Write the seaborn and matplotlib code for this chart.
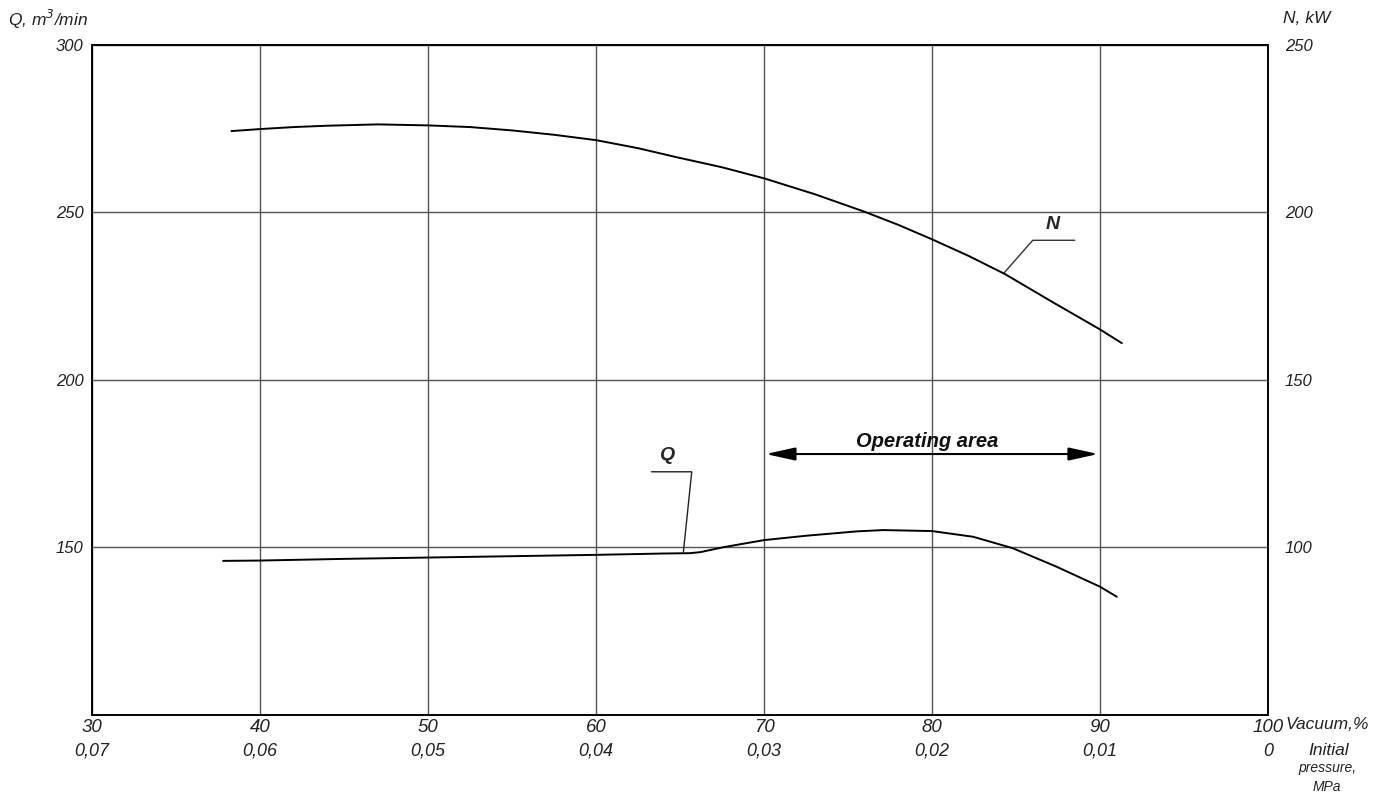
import matplotlib.pyplot as plt
import seaborn as sns
import pandas as pd
from matplotlib.transforms import blended_transform_factory

# Dados
vacuum_q = [37.8, 40, 45, 50, 55, 60, 64, 65.6, 66.2, 67.6, 70, 72.5, 75.5, 77.1, 80,
            82.45, 84.8, 87.4, 90, 91.0]
q_vals = [146.0, 146.1, 146.6, 147.0, 147.4, 147.8, 148.2, 148.3, 148.6, 150.1, 152.2,
          153.5, 154.8, 155.2, 154.9, 153.2, 149.8, 144.3, 138.3, 135.3]

vacuum_n = [38.3, 40, 42, 44, 47, 50, 52.5, 55, 57.5, 60, 62.5, 64.8, 67.5, 70, 73.0,
            76.0, 78, 80, 82.2, 84.35, 87.3, 90, 91.3]
n_vals = [224.3, 224.9, 225.5, 225.9, 226.3, 226.0, 225.5, 224.5, 223.2, 221.6, 219.2,
          216.5, 213.5, 210.2, 205.5, 200.2, 196.3, 192.0, 187.0, 181.6, 172.9, 165.1, 161.0]

vacuum_ticks = [30, 40, 50, 60, 70, 80, 90, 100]
pressure_labels = ["0,07", "0,06", "0,05", "0,04", "0,03", "0,02", "0,01", "0"]
q_ticks = [150, 200, 250, 300]
n_ticks = [100, 150, 200, 250]

sns.set_theme(style="white")
plt.rcParams["font.family"] = ["Liberation Sans", "DejaVu Sans"]
plt.rcParams["font.style"] = "italic"

fig = plt.figure(figsize=(13.88, 8.02), dpi=100)
ax = fig.add_axes([0.0663, 0.1085, 0.8472, 0.8354])
ax2 = ax.twinx()

df_q = pd.DataFrame({"vacuum": vacuum_q, "Q": q_vals})
df_n = pd.DataFrame({"vacuum": vacuum_n, "N": n_vals})

sns.lineplot(data=df_q, x="vacuum", y="Q", ax=ax, color="black", linewidth=1.4)
sns.lineplot(data=df_n, x="vacuum", y="N", ax=ax2, color="black", linewidth=1.4)

ax.set_xlim(30, 100)
ax.set_ylim(100, 300)
ax2.set_ylim(50, 250)

ax.set_xticks(vacuum_ticks)
ax.set_yticks(q_ticks)
ax2.set_yticks(n_ticks)
ax.grid(True, color="#555555", linewidth=1.0)
ax.set_axisbelow(True)

ax.tick_params(axis="x", pad=3, labelsize=13.5, labelcolor="#222222", length=0)
ax.tick_params(axis="y", pad=6, labelsize=12, labelcolor="#222222", length=0)
ax2.tick_params(axis="y", pad=12, labelsize=12, labelcolor="#222222", length=0)
for lab in ax.get_xticklabels() + ax.get_yticklabels() + ax2.get_yticklabels():
    lab.set_style("italic")

for spine in list(ax.spines.values()) + list(ax2.spines.values()):
    spine.set_color("black")
    spine.set_linewidth(1.2)

ax.set_xlabel("")
ax.set_ylabel("")
ax2.set_ylabel("")

# Segunda linha de rótulos (pressão)
trans = blended_transform_factory(ax.transData, ax.transAxes)
for v, p in zip(vacuum_ticks, pressure_labels):
    ax.text(v, -0.054, p, transform=trans, ha="center", va="center",
            fontsize=13, style="italic", color="#222222")

fig.text(0.006, 0.976, "Q, m$^3$/min", fontsize=12.5, style="italic", color="#222222",
         ha="left", va="center")
fig.text(0.924, 0.977, "N, kW", fontsize=12.5, style="italic", color="#222222",
         ha="left", va="center")
fig.text(0.926, 0.097, "Vacuum,%", fontsize=12.5, style="italic", color="#222222",
         ha="left", va="center")
fig.text(0.957, 0.064, "Initial", fontsize=12.5, style="italic", color="#222222",
         ha="center", va="center")
fig.text(0.956, 0.043, "pressure,", fontsize=10, style="italic", color="#222222",
         ha="center", va="center")
fig.text(0.956, 0.019, "MPa", fontsize=10, style="italic", color="#222222",
         ha="center", va="center")

# Zona de operação
ax.annotate("", xy=(70.1, 177.9), xytext=(89.9, 177.9),
            arrowprops=dict(arrowstyle="<|-|>,head_length=1.0,head_width=0.22",
                            color="black", lw=1.5, mutation_scale=18,
                            shrinkA=0, shrinkB=0))
ax.text(79.7, 181.5, "Operating area", fontsize=14.5, fontweight="bold",
        style="italic", ha="center", va="center", color="#111111")

# Chamadas das curvas
ax.plot([63.3, 65.7, 65.2], [172.6, 172.6, 148.5], color="#222222", lw=1.0)
ax.text(64.2, 177.5, "Q", fontsize=14, fontweight="bold", style="italic",
        ha="center", va="center")
ax.plot([88.5, 86.0, 84.3], [241.7, 241.7, 232.0], color="#333333", lw=1.0)
ax.text(87.2, 246.5, "N", fontsize=14, fontweight="bold", style="italic",
        ha="center", va="center")

fig.savefig("out.png", dpi=100)
plt.close(fig)
